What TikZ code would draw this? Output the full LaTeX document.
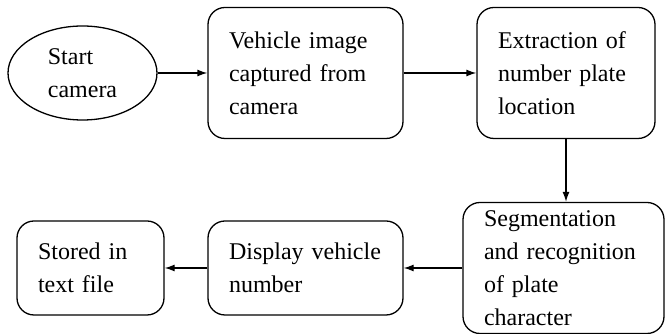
\documentclass[tikz,border=0pt]{standalone}
\usepackage{fontspec}
\setmainfont{Liberation Serif}
\usetikzlibrary{arrows.meta,shapes.geometric}
\begin{document}
\begin{tikzpicture}[x=1pt, y=1pt,
    stepbox/.style={draw, line width=1.3pt, rounded corners=17pt, align=left,
        inner xsep=21pt, inner ysep=0pt, font=\fontsize{24}{33}\selectfont},
    startbox/.style={draw, ellipse, line width=1.3pt, align=left, inner sep=0pt,
        minimum width=149pt, minimum height=94pt, font=\fontsize{24}{33}\selectfont},
    flow/.style={line width=1.3pt, -{Latex[length=10pt,width=7pt]}}]
    \useasboundingbox (0,0) rectangle (665,334);

    \node[startbox] (start) at (82.5,261) {Start\\camera};
    \node[stepbox, text width=153pt, minimum height=131pt] (capture) at (305.5,261)
        {Vehicle image\\captured from\\camera};
    \node[stepbox, text width=136pt, minimum height=131pt] (extract) at (566,261)
        {Extraction of\\number plate\\location};

    \node[stepbox, text width=159pt, minimum height=131pt] (segment) at (563.5,66)
        {Segmentation\\and recognition\\of plate\\character};
    \node[stepbox, text width=153pt, minimum height=94pt] (display) at (305.5,66)
        {Display vehicle\\number};
    \node[stepbox, text width=105pt, minimum height=94pt] (stored) at (90.5,66)
        {Stored in\\text file};

    \foreach \a/\b in {start/capture, capture/extract} {
        \draw[flow] (\a.east) -- (\b.west);
    }
    \draw[flow] (extract.south) -- (extract.south |- segment.north);
    \foreach \a/\b in {segment/display, display/stored} {
        \draw[flow] (\a.west) -- (\b.east);
    }
\end{tikzpicture}
\end{document}
